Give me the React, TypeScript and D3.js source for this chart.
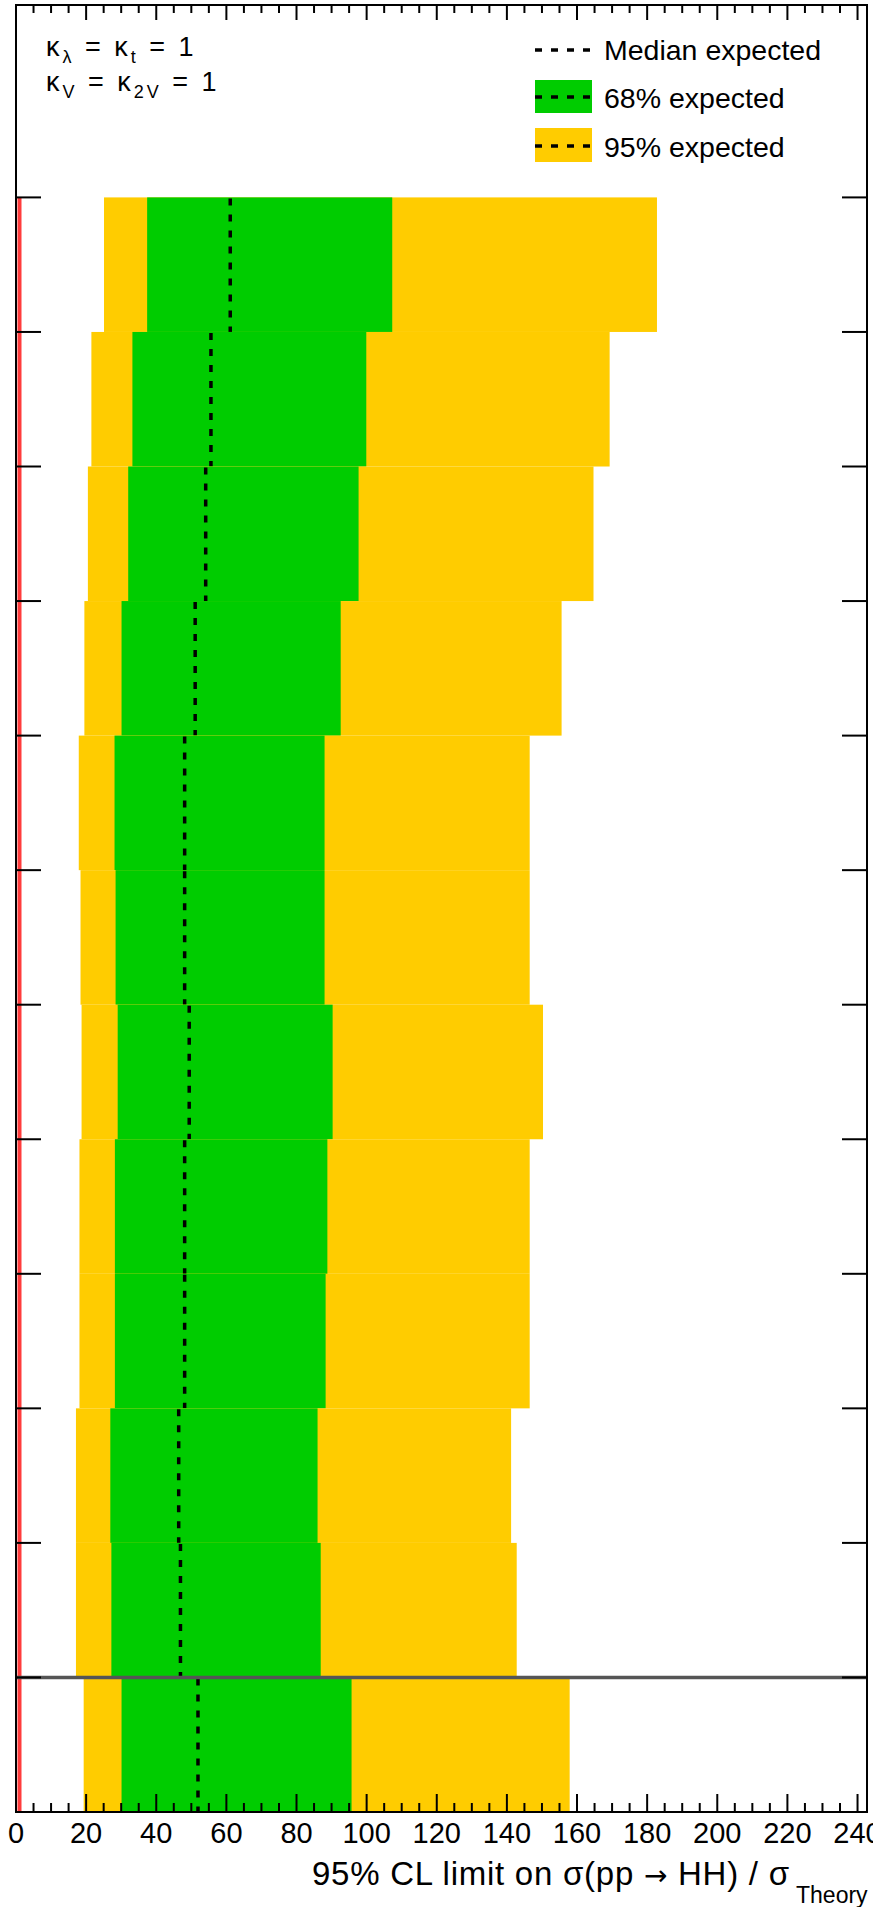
import * as d3 from 'd3';

// rows listed top to bottom; the bottom row is the combination
const median = [61.1, 55.6, 54.1, 51.1, 48.1, 48.1, 49.4, 48.1, 48.1, 46.4, 46.9, 51.9];
const lo68 = [37.4, 33.2, 32.0, 30.1, 28.1, 28.4, 29.0, 28.2, 28.2, 26.9, 27.2, 30.1];
const hi68 = [107.3, 99.9, 97.7, 92.6, 88.0, 88.0, 90.3, 88.8, 88.3, 86.0, 86.9, 95.7];
const lo95 = [25.1, 21.5, 20.5, 19.5, 17.9, 18.4, 18.7, 18.1, 18.1, 17.1, 17.1, 19.3];
const hi95 = [182.8, 169.3, 164.7, 155.6, 146.5, 146.5, 150.3, 146.5, 146.5, 141.2, 142.8, 157.9];

const theory = 1;
const xMajor = d3.range(0, 241, 20);
const xMinor = d3.range(0, 241, 5);

const W = 873, H = 1907;
const FR = { left: 16, right: 867, top: 5, bottom: 1812 };
const X_MAX = 242.7;
const Y_MAX = 13.43;
const N = median.length;

const YELLOW = '#ffcc00';
const GREEN = '#00cc00';
const FONT = '"Liberation Sans", Arial, Helvetica, sans-serif';
const DASH = '7 9';

export default function App() {
  const x = d3.scaleLinear().domain([0, X_MAX]).range([FR.left, FR.right]);
  const y = d3.scaleLinear().domain([0, Y_MAX]).range([FR.bottom, FR.top]);

  const rows = median.map((m, i) => ({
    top: y(N - i),
    bot: y(N - i - 1),
    m, l68: lo68[i], h68: hi68[i], l95: lo95[i], h95: hi95[i],
  }));

  return (
    <svg width={W} height={H} style={{ position: 'absolute', left: 0, top: 0, background: '#fff' }}
      fontFamily={FONT}>
      <rect x={0} y={0} width={W} height={H} fill="#fff" />

      {rows.map((r, i) => (
        <g key={i}>
          <rect x={x(r.l95)} y={r.top} width={x(r.h95) - x(r.l95)} height={r.bot - r.top} fill={YELLOW} />
          <rect x={x(r.l68)} y={r.top} width={x(r.h68) - x(r.l68)} height={r.bot - r.top} fill={GREEN} />
          <line x1={x(r.m)} x2={x(r.m)} y1={r.top + 1} y2={r.bot} stroke="#000" strokeWidth={3.5}
            strokeDasharray={DASH} />
        </g>
      ))}

      {/* theory line */}
      <line x1={x(theory)} x2={x(theory)} y1={y(N)} y2={FR.bottom} stroke="#ff3c3c" strokeWidth={4} />

      {/* separator above combined row */}
      <line x1={FR.left} x2={FR.right} y1={y(1)} y2={y(1)} stroke="#555" strokeWidth={3.5} />

      {/* frame */}
      <rect x={FR.left} y={FR.top} width={FR.right - FR.left} height={FR.bottom - FR.top}
        fill="none" stroke="#000" strokeWidth={2} />

      {/* y ticks */}
      {d3.range(0, N + 1).map(k => (
        <g key={k} stroke="#000" strokeWidth={2}>
          <line x1={FR.left} x2={FR.left + 25} y1={y(k)} y2={y(k)} />
          <line x1={FR.right - 25} x2={FR.right} y1={y(k)} y2={y(k)} />
        </g>
      ))}

      {/* x ticks */}
      {xMinor.map(v => {
        const major = v % 20 === 0;
        return (
          <g key={v} stroke="#000" strokeWidth={2}>
            <line x1={x(v)} x2={x(v)} y1={FR.bottom} y2={FR.bottom - (major ? 18 : 9)} />
            <line x1={x(v)} x2={x(v)} y1={FR.top} y2={FR.top + (major ? 15 : 8)} />
          </g>
        );
      })}
      {xMajor.map(v => (
        <text key={v} x={x(v)} y={1843} fontSize={29} textAnchor="middle">{v}</text>
      ))}

      {/* axis title */}
      <text x={312} y={1885} fontSize={33} textLength={477} lengthAdjust="spacing">
        95% CL limit on σ(pp <tspan fontFamily="DejaVu Sans" fontSize={28}>→</tspan> HH) / σ
      </text>
      <text x={796} y={1903} fontSize={23}>Theory</text>

      {/* coupling labels */}
      <text x={46} y={56} fontSize={27} letterSpacing={3}>
        κ<tspan fontSize={18} dy={7}>λ</tspan><tspan dy={-7}> = κ</tspan>
        <tspan fontSize={18} dy={7}>t</tspan><tspan dy={-7}> = 1</tspan>
      </text>
      <text x={46} y={91} fontSize={27} letterSpacing={3}>
        κ<tspan fontSize={18} dy={7}>V</tspan><tspan dy={-7}> = κ</tspan>
        <tspan fontSize={18} dy={7}>2V</tspan><tspan dy={-7}> = 1</tspan>
      </text>

      {/* legend */}
      <g>
        <line x1={535} x2={592} y1={50} y2={50} stroke="#000" strokeWidth={3.5} strokeDasharray={DASH} />
        <text x={604} y={60} fontSize={28.5}>Median expected</text>

        <rect x={535} y={80} width={57} height={33} fill={GREEN} />
        <line x1={535} x2={592} y1={97} y2={97} stroke="#000" strokeWidth={3.5} strokeDasharray={DASH} />
        <text x={604} y={108} fontSize={28.5}>68% expected</text>

        <rect x={535} y={128} width={57} height={34} fill={YELLOW} />
        <line x1={535} x2={592} y1={146} y2={146} stroke="#000" strokeWidth={3.5} strokeDasharray={DASH} />
        <text x={604} y={157} fontSize={28.5}>95% expected</text>
      </g>
    </svg>
  );
}
